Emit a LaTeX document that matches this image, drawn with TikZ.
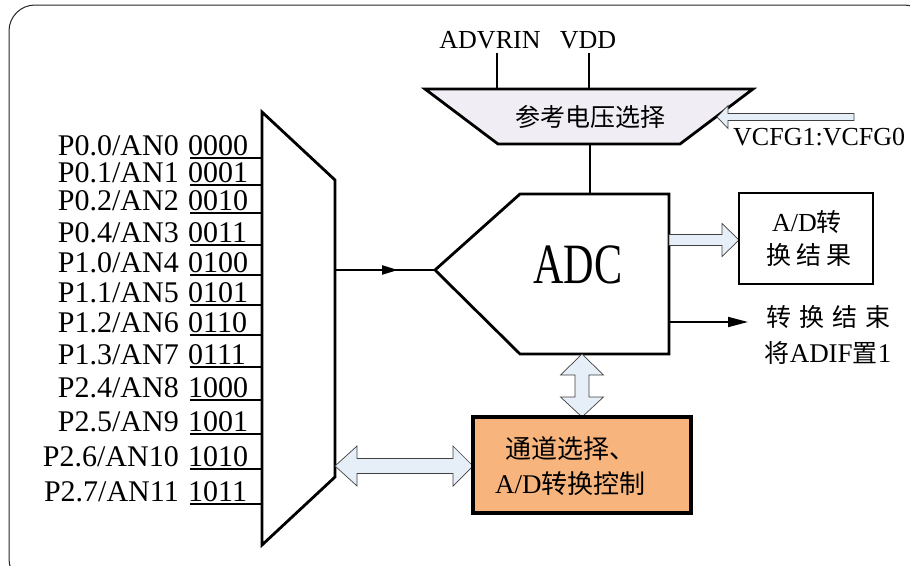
\documentclass[tikz,border=0pt]{standalone}
\usepackage{fontspec}
\setmainfont{Liberation Serif}
\newfontfamily\narrowfont[FakeStretch=0.74]{Liberation Serif}
\newfontfamily\cjk{Noto Sans CJK SC}
\newfontfamily\cjkw[LetterSpace=20]{Noto Sans CJK SC}
\newfontfamily\cjkww[LetterSpace=32]{Noto Sans CJK SC}
\usetikzlibrary{arrows.meta}
\definecolor{trapfill}{HTML}{F0EEF4}
\definecolor{arrfill}{HTML}{E6EEF8}
\definecolor{ctrlfill}{HTML}{F7B47C}
\newcommand{\fsz}[1]{\fontsize{#1}{#1}\selectfont}
\begin{document}
\begin{tikzpicture}[x=1pt,y=-1pt,
  thickline/.style={line width=2.8pt, line join=miter},
  inline/.style={line width=2.4pt},
  blockarrow/.style={draw=black!75, line width=0.7pt, fill=arrfill, line join=miter},
  lbl/.style={inner sep=0pt, font=\fsz{30}},
  small/.style={inner sep=0pt, font=\fsz{26}},
  zh/.style={inner sep=0pt, font=\cjk\fsz{25}}]
\useasboundingbox (0,0) rectangle (910,565);
% outer frame
\draw[line width=1pt, black!85, rounded corners=26pt] (9,5) rectangle (930,585);

% ---------- multiplexer ----------
\coordinate (muxTL) at (262,112);
\coordinate (muxTR) at (335,180);
\coordinate (muxBR) at (335,477);
\coordinate (muxBL) at (262,545);
\draw[thickline] (muxTL) -- (muxTR) -- (muxBR) -- (muxBL) -- cycle;

\foreach \i/\y/\lab/\code in {0/158/{P0.0/AN0}/0000, 1/185/{P0.1/AN1}/0001, 2/213/{P0.2/AN2}/0010,
   3/245/{P0.4/AN3}/0011, 4/275/{P1.0/AN4}/0100, 5/305/{P1.1/AN5}/0101, 6/335/{P1.2/AN6}/0110,
   7/367/{P1.3/AN7}/0111, 8/400/{P2.4/AN8}/1000, 9/434/{P2.5/AN9}/1001, 10/469/{P2.6/AN10}/1010,
   11/504/{P2.7/AN11}/1011}{
  \coordinate (in\i) at (190,\y);
  \draw[inline] (in\i) -- (in\i -| muxTL);
  \node[lbl, anchor=base east] (lab\i) at (179,\y-3) {\lab};
  \node[lbl, anchor=base west] (code\i) at (188,\y-3) {\code};
}

% ---------- reference voltage selector ----------
\coordinate (trTL) at (425,89);
\coordinate (trTR) at (753,89);
\coordinate (trBR) at (680,144);
\coordinate (trBL) at (498,144);
\coordinate (advrinEnd) at (497,89);
\coordinate (vddEnd) at (589,89);
\coordinate (refOut) at (590,144);
\draw[thickline, fill=trapfill] (trTL) -- (trTR) -- (trBR) -- (trBL) -- cycle;
\node[zh] (reftxt) at (590,117) {参考电压选择};
\node[small, anchor=base] (advrin) at (490,48) {ADVRIN};
\node[small, anchor=base] (vdd) at (588,48) {VDD};
\draw[thickline] (advrin.south -| advrinEnd) ++(0,4) -- (advrinEnd);
\draw[thickline] (vdd.south -| vddEnd) ++(0,4) -- (vddEnd);

% VCFG arrow
\coordinate (vtip) at (717,117);
\draw[blockarrow] (vtip) -- (728,105.5) -- (728,113.5) -- (854,113.5) -- (854,120.5) -- (728,120.5) -- (728,128.5) -- cycle;
\node[small, anchor=base west] (vcfg) at (733,145) {VCFG1:VCFG0};

% ---------- ADC ----------
\coordinate (adcTip) at (435,270);
\coordinate (adcTL) at (520,194);
\coordinate (adcTR) at (669,194);
\coordinate (adcBR) at (669,354);
\coordinate (adcBL) at (520,354);
\draw[thickline] (adcTip) -- (adcTL) -- (adcTR) -- (adcBR) -- (adcBL) -- cycle;
\node[inner sep=0pt, anchor=base, font=\narrowfont\fsz{57}] (adc) at (578,283) {ADC};
\draw[thickline] (refOut) -- (refOut |- adcTL);

% mux -> ADC
\coordinate (muxOut) at (335,270);
\coordinate (midArrow) at (398,270);
\draw[line width=2.2pt] (muxOut) -- (adcTip);
\draw[line width=2.2pt, -{Triangle[length=16pt,width=9pt]}] (muxOut) -- (midArrow);

% ---------- result box ----------
\coordinate (resTL) at (739,193);
\coordinate (resBR) at (873,284);
\draw[blockarrow] (669,234.5) -- (722,234.5) -- (722,223.5) -- (739,240) -- (722,256.5) -- (722,245.5) -- (669,245.5) -- cycle;
\draw[thickline] (resTL) rectangle (resBR);
\node[inner sep=0pt, font=\fsz{26}] (res1) at (807,222) {A/D{\cjk\fsz{25}转}};
\node[inner sep=0pt, font=\cjkw\fsz{25}] (res2) at (809,255) {换结果};

% end-of-conversion arrow
\coordinate (eocStart) at (669,322);
\coordinate (eocEnd) at (748,322);
\draw[line width=1.6pt, -{Triangle[length=20pt,width=10pt]}] (eocStart) -- (eocEnd);
\node[inner sep=0pt, font=\cjkww\fsz{25}] (eoc1) at (828,317) {转换结束};
\node[inner sep=0pt, font=\fsz{27}] (eoc2) at (828,353) {{\cjk\fsz{25}将}ADIF{\cjk\fsz{25}置}1};

% ---------- control box ----------
\coordinate (ctlTL) at (473,417);
\coordinate (ctlBR) at (691,513);
\draw[blockarrow] (582,354) -- (603.5,375) -- (589,375) -- (589,397) -- (603.5,397) -- (582,417) -- (560.5,397) -- (575,397) -- (575,375) -- (560.5,375) -- cycle;
\draw[blockarrow] (335,466) -- (357,446) -- (357,458.5) -- (453,458.5) -- (453,446) -- (473,466) -- (453,486) -- (453,473.5) -- (357,473.5) -- (357,486) -- cycle;
\draw[line width=3.2pt, fill=ctrlfill] (ctlTL) rectangle (ctlBR);
\node[zh, anchor=base west, font=\cjk\fsz{26}] (ctl1) at (505,458) {通道选择、};
\node[inner sep=0pt, anchor=base west, font=\fsz{27}] (ctl2) at (495,493) {A/D{\cjk\fsz{26}转换控制}};
\end{tikzpicture}
\end{document}
